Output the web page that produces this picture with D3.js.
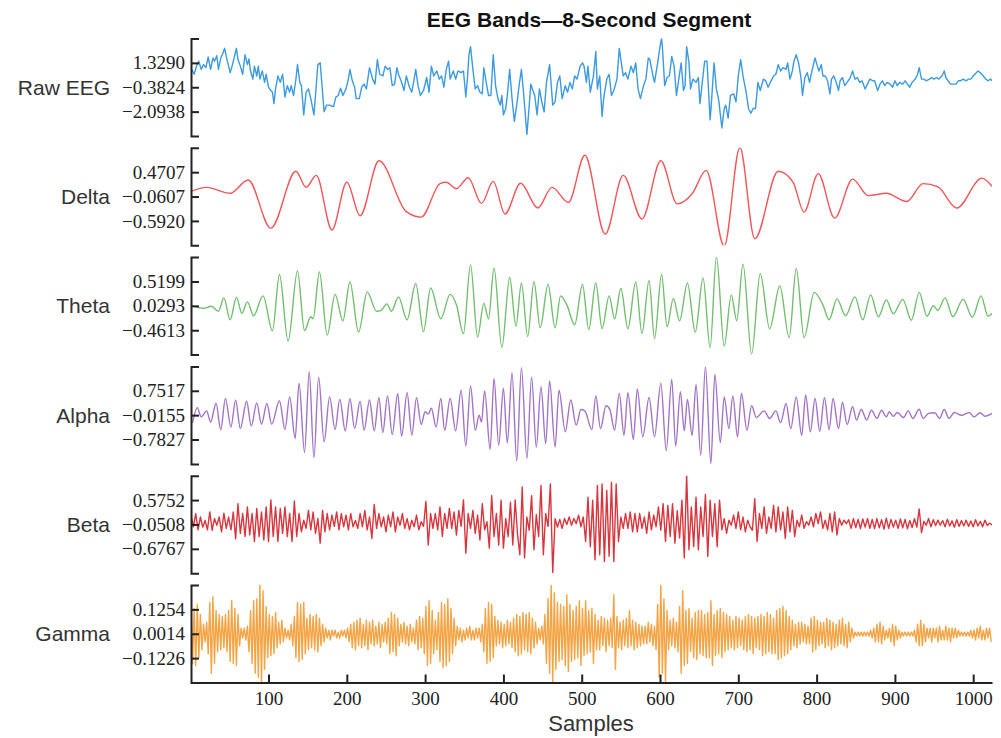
<!DOCTYPE html>
<html lang="en">
<head>
  <meta charset="UTF-8">
  <title>EEG Bands</title>
  <style>
    body { margin: 0; background: #fff; }
    .axis path, .axis line { stroke: #222; stroke-width: 2px; }
    .axis text { font-family: "Liberation Serif", serif; font-size: 19px; fill: #222; }
    .band-label { font-family: "Liberation Sans", Arial, sans-serif; font-size: 21px; fill: #333; }
    .trace { fill: none; stroke-width: 1.4px; stroke-linejoin: round; }
  </style>
</head>
<body>
  <svg width="1001" height="738"></svg>
  <script src="https://cdn.jsdelivr.net/npm/d3@7/dist/d3.min.js"></script>
  <script>
    // band names, colours and the three tick values of each panel (mean + sd, mean, mean - sd)
    var bandNames = ['Raw EEG', 'Delta', 'Theta', 'Alpha', 'Beta', 'Gamma']
    var bandColors = ['#3b9ae1', '#f0575a', '#72bf6f', '#a274c6', '#d8353d', '#f4a444']
    var bandTicks = [
      [1.3290, -0.3824, -2.0938],
      [0.4707, -0.0607, -0.5920],
      [0.5199, 0.0293, -0.4613],
      [0.7517, -0.0155, -0.7827],
      [0.5752, -0.0508, -0.6767],
      [0.1254, 0.0014, -0.1226]
    ]
    var xTicks = [100, 200, 300, 400, 500, 600, 700, 800, 900, 1000]

    // [sample, value]
    var rawEEG = [
      [2,0.87],[5,0.53],[8,1.10],[11,1.44],[14,0.87],[17,1.21],[20,0.99],[23,1.74],[26,0.87],[29,1.67],
      [31,1.44],[34,1.83],[36,0.87],[39,1.67],[41,1.90],[44,2.35],[47,1.56],[51,0.64],[54,1.21],[57,1.90],
      [59,2.35],[61,1.56],[64,1.10],[67,0.53],[70,1.90],[73,1.21],[75,1.60],[77,0.76],[80,0.19],[82,1.10],
      [85,0.41],[87,1.10],[89,0.19],[92,0.76],[95,-0.04],[97,0.53],[100,-0.38],[103,-0.61],[105,-0.73],[107,-1.53],
      [109,-0.50],[112,0.41],[115,-0.04],[118,0.53],[121,-1.07],[124,-0.27],[127,-0.73],[129,-0.27],[132,-0.96],[135,0.19],
      [137,1.21],[140,-0.04],[142,-0.27],[145,-2.32],[148,-0.73],[151,-0.50],[154,-1.18],[158,-2.32],[160,-0.96],[163,1.21],
      [166,1.33],[168,-0.04],[171,-2.10],[174,-1.64],[178,-1.64],[183,-1.75],[186,-1.07],[189,-0.96],[192,-0.45],[195,-0.96],
      [199,-0.50],[202,0.19],[204,0.87],[207,0.07],[210,-0.38],[212,-1.18],[216,-1.18],[219,-0.38],[222,-0.16],[225,-0.50],
      [229,0.99],[233,0.19],[236,-0.16],[239,1.56],[242,0.53],[246,0.41],[249,1.10],[252,0.87],[255,0.99],[258,-0.27],
      [261,-0.16],[264,0.99],[266,0.53],[270,-0.04],[273,-0.61],[276,0.41],[280,-0.38],[283,-0.73],[286,0.19],[288,0.87],
      [291,-0.27],[294,-0.96],[298,-0.61],[302,0.30],[305,-0.73],[308,1.10],[311,0.41],[315,0.76],[318,0.19],[321,0.41],
      [324,-0.38],[327,0.87],[330,1.44],[332,0.19],[336,0.76],[339,0.19],[342,0.76],[346,0.64],[349,0.76],[352,-1.07],
      [354,0.19],[356,1.90],[358,2.47],[361,0.87],[364,-0.50],[367,-0.27],[370,-0.73],[373,-0.84],[375,0.99],[378,-0.04],
      [381,-0.96],[384,-0.96],[387,1.90],[390,-0.27],[393,-1.18],[396,-1.64],[398,-0.96],[400,-2.32],[403,-1.87],[405,-0.96],
      [408,0.87],[411,-1.18],[414,-2.78],[417,-1.64],[420,-0.27],[423,0.87],[426,-0.96],[430,-3.69],[433,-1.64],[435,-0.16],
      [437,-0.50],[440,-0.96],[443,-2.32],[446,-0.50],[449,-1.41],[452,-2.10],[455,-0.04],[459,1.21],[463,-1.64],[466,-1.41],
      [469,-0.04],[472,0.41],[475,-1.18],[479,-0.27],[482,-0.73],[485,-0.04],[488,-0.50],[491,0.41],[494,0.19],[498,1.10],
      [501,1.33],[503,1.10],[506,-0.04],[508,1.10],[511,-0.73],[515,0.41],[518,2.13],[520,-0.50],[523,0.41],[526,-2.44],
      [528,-1.18],[532,0.19],[535,0.53],[538,-0.96],[541,-0.61],[545,0.19],[548,2.35],[550,1.56],[553,0.41],[556,0.64],
      [559,0.19],[563,1.10],[566,0.64],[569,1.33],[572,-0.50],[575,-1.18],[579,-0.27],[582,0.19],[585,1.67],[587,1.56],
      [591,0.41],[593,-0.04],[597,1.33],[600,2.47],[602,3.04],[603,2.47],[606,-0.27],[609,0.30],[612,0.41],[615,1.78],
      [618,1.10],[621,-0.96],[624,0.19],[627,1.33],[630,-0.61],[632,-0.27],[634,2.47],[637,1.33],[639,-0.50],[642,0.19],
      [646,-0.04],[649,0.30],[651,-1.53],[654,-0.04],[657,1.44],[660,1.44],[664,-2.67],[666,-1.18],[669,1.33],[672,-0.50],
      [675,-1.30],[679,-3.24],[682,-1.87],[684,-1.64],[687,-2.55],[690,-0.96],[694,-0.84],[697,-1.41],[700,0.41],[703,1.56],
      [706,0.41],[710,-0.73],[713,-1.87],[716,-2.21],[719,-1.87],[722,-1.87],[725,-0.04],[728,-0.61],[732,0.19],[735,0.07],
      [738,-0.38],[741,-0.04],[745,0.41],[748,0.53],[751,1.21],[754,0.76],[757,0.99],[761,0.87],[763,1.33],[766,0.19],
      [769,0.76],[771,1.44],[774,1.90],[777,1.33],[780,0.30],[782,-0.96],[785,0.30],[788,0.64],[791,-0.04],[794,0.76],
      [798,1.67],[801,1.10],[803,0.76],[806,1.21],[808,0.41],[811,0.41],[814,0.07],[817,-0.84],[819,0.19],[822,0.41],
      [825,-0.04],[828,-0.61],[830,0.07],[833,0.30],[836,-0.27],[839,-0.04],[843,0.30],[846,0.76],[849,0.19],[852,0.30],
      [855,-0.04],[858,0.07],[862,-0.50],[865,-0.16],[868,0.19],[872,0.07],[874,0.07],[878,-0.61],[881,-0.16],[884,0.07],
      [887,-0.27],[890,-0.04],[894,-0.16],[897,-0.38],[900,0.07],[903,-0.27],[906,-0.04],[910,-0.16],[913,0.07],[916,-0.16],
      [919,-0.38],[922,-0.04],[926,0.19],[929,0.53],[931,0.99],[934,0.19],[937,0.19],[940,0.07],[944,0.19],[947,0.30],
      [950,0.19],[953,0.30],[956,0.19],[960,0.41],[963,0.76],[965,0.30],[968,0.07],[971,-0.16],[975,-0.16],[978,-0.16],
      [981,0.07],[984,0.07],[987,0.19],[991,0.07],[994,0.19],[997,0.19],[1000,0.41],[1004,0.64],[1006,0.76],[1009,0.64],
      [1013,0.41],[1016,0.19],[1019,0.07],[1022,0.19],[1024,0.07]
    ]

    // turning points [sample, value]
    var delta = [
      [1,0.05],[21,0.14],[51,0.01],[74,0.30],[103,-0.75],[135,0.49],[148,0.14],[161,0.40],[181,-0.79],[200,0.25],
      [217,-0.48],[241,0.72],[276,-0.39],[295,-0.51],[319,0.22],[327,0.25],[340,0.11],[355,0.35],[372,-0.21],[387,0.27],
      [402,-0.44],[422,0.23],[444,-0.31],[462,0.14],[483,-0.19],[504,0.84],[530,-0.88],[553,0.40],[577,-0.55],[601,0.72],
      [622,-0.22],[641,0.00],[659,0.51],[682,-1.14],[702,1.01],[721,-0.98],[751,0.49],[770,0.25],[784,-0.40],[802,0.44],
      [823,-0.53],[846,0.32],[866,-0.04],[889,0.01],[915,-0.17],[936,0.22],[955,0.15],[979,-0.31],[1011,0.34],[1024,0.16]
    ]

    var theta = [
      [3,0.03],[17,-0.02],[27,0.02],[36,-0.08],[43,0.19],[51,-0.25],[59,0.20],[66,-0.12],[73,0.11],[81,-0.17],
      [93,0.23],[105,-0.47],[114,0.66],[125,-0.68],[137,0.73],[146,-0.47],[154,-0.19],[157,-0.23],[165,0.71],[175,-0.56],
      [185,0.26],[195,-0.27],[204,0.51],[215,-0.50],[226,0.31],[238,-0.08],[244,-0.06],[251,0.07],[257,-0.08],[266,0.21],
      [277,-0.25],[288,0.48],[298,-0.49],[307,0.39],[320,-0.23],[332,0.26],[340,0.05],[349,-0.53],[358,0.86],[367,-0.60],
      [375,0.08],[381,-0.23],[388,0.79],[398,-0.81],[408,0.60],[416,-0.38],[423,0.49],[431,-0.59],[439,0.52],[447,-0.41],
      [457,0.46],[466,-0.41],[473,0.23],[481,0.05],[491,-0.35],[501,0.46],[509,-0.45],[518,0.49],[526,-0.43],[535,0.23],
      [542,-0.23],[550,0.38],[559,-0.43],[569,0.51],[577,-0.53],[586,0.54],[593,-0.63],[602,0.66],[609,-0.39],[617,0.18],
      [625,-0.27],[635,0.49],[645,-0.50],[655,0.59],[664,-0.81],[672,1.02],[682,-0.78],[691,0.25],[698,-0.27],[706,0.87],
      [717,-0.94],[728,0.68],[740,-0.43],[753,0.43],[765,-0.61],[774,0.78],[784,-0.61],[797,0.30],[808,0.05],[816,-0.25],
      [826,0.17],[837,-0.17],[849,0.21],[859,-0.25],[869,0.25],[879,-0.19],[889,0.15],[898,-0.13],[910,0.16],[921,-0.26],
      [931,0.30],[941,-0.18],[949,0.03],[955,-0.06],[964,0.19],[974,-0.19],[987,0.16],[999,-0.20],[1010,0.23],[1019,-0.18],
      [1024,-0.12]
    ]

    var alpha = [
      [3,-0.26],[9,0.22],[14,-0.07],[21,0.12],[26,-0.23],[33,0.35],[39,-0.47],[45,0.51],[52,-0.39],[58,0.46],
      [64,-0.44],[72,0.42],[78,-0.36],[85,0.37],[91,-0.30],[98,0.35],[104,-0.30],[114,0.44],[121,-0.47],[127,0.56],
      [134,-0.75],[139,0.99],[146,-1.19],[152,1.35],[158,-1.35],[164,1.18],[171,-0.86],[178,0.56],[185,-0.47],[191,0.48],
      [198,-0.51],[204,0.50],[210,-0.44],[217,0.42],[222,-0.49],[229,0.46],[235,-0.51],[241,0.53],[246,-0.56],[252,0.59],
      [258,-0.63],[265,0.66],[270,-0.68],[277,0.69],[283,-0.65],[289,0.53],[295,-0.31],[300,0.09],[304,0.02],[308,0.20],
      [314,-0.39],[320,0.51],[325,-0.49],[332,0.51],[339,-0.51],[346,0.77],[352,-0.99],[358,0.90],[364,-0.49],[369,-0.02],
      [372,-0.23],[376,0.75],[383,-1.09],[388,1.14],[394,-0.96],[400,0.83],[405,-0.89],[411,1.32],[417,-1.46],[423,1.48],
      [430,-1.38],[436,1.18],[442,-1.02],[448,0.88],[454,-0.91],[459,1.06],[466,-1.02],[471,0.77],[479,-0.54],[486,0.46],
      [493,-0.33],[499,0.16],[504,0.12],[513,-0.47],[518,0.59],[524,-0.44],[531,0.28],[536,0.16],[542,-0.49],[548,0.67],
      [554,-0.65],[559,0.69],[566,-0.78],[571,0.81],[578,-0.70],[586,0.54],[593,-0.70],[601,0.99],[608,-1.13],[615,1.11],
      [620,-0.99],[626,0.72],[631,-0.51],[635,0.48],[641,-0.65],[646,0.95],[652,-1.28],[658,1.51],[665,-1.54],[670,1.27],
      [677,-0.88],[682,0.56],[688,-0.44],[693,0.59],[699,-0.70],[704,0.67],[711,-0.49],[717,0.28],[723,-0.09],[733,0.12],
      [740,-0.12],[748,0.12],[754,-0.25],[761,0.35],[767,-0.44],[774,0.56],[781,-0.65],[786,0.62],[792,-0.54],[798,0.51],
      [804,-0.52],[810,0.53],[816,-0.47],[821,0.51],[828,-0.44],[833,0.39],[839,-0.31],[846,0.25],[851,-0.17],[857,0.16],
      [864,-0.17],[870,0.14],[877,-0.12],[883,0.14],[889,-0.07],[893,0.09],[898,-0.05],[903,0.07],[911,-0.09],[917,0.12],
      [923,-0.12],[931,0.17],[936,-0.12],[943,0.04],[951,0.06],[957,-0.12],[963,0.16],[969,-0.12],[976,0.07],[985,-0.02],
      [995,0.07],[1001,-0.07],[1009,0.06],[1015,-0.05],[1024,0.04]
    ]

    // beta: one value every 3 samples, from sample 1
    var beta = [
      0.19,-0.11,0.23,-0.19,0.14,-0.12,0.05,-0.19,0.27,-0.20,
      0.10,-0.07,0.14,-0.24,0.24,-0.15,0.14,-0.19,0.27,-0.42,
      0.48,-0.28,0.23,-0.36,0.40,-0.32,0.23,-0.49,0.36,-0.36,
      0.27,-0.45,0.40,-0.49,0.58,-0.36,0.40,-0.49,0.36,-0.28,
      0.40,-0.36,0.23,-0.49,0.55,-0.36,0.23,-0.24,0.06,-0.15,
      0.31,-0.19,0.27,-0.28,0.10,-0.53,0.31,-0.24,0.23,-0.19,
      0.19,-0.10,0.27,-0.19,0.23,-0.11,0.19,-0.19,0.23,-0.11,
      0.05,-0.15,0.23,-0.11,0.31,-0.19,0.14,-0.41,0.46,-0.15,
      0.23,-0.11,0.14,-0.24,0.19,-0.11,0.27,-0.24,0.14,-0.07,
      0.23,-0.15,0.10,-0.19,0.06,-0.11,0.19,-0.19,0.02,-0.10,
      0.54,-0.58,0.23,-0.15,0.23,-0.19,0.40,-0.36,0.23,-0.15,
      0.36,-0.15,0.27,-0.32,0.31,-0.10,0.58,-0.79,0.23,-0.15,
      0.31,-0.28,0.19,-0.45,0.48,-0.19,0.02,-0.66,0.69,-0.36,
      0.23,-0.58,0.57,-0.66,0.10,-0.36,0.52,-0.58,0.58,-0.30,
      -0.83,0.91,-0.91,0.14,-0.20,0.69,-0.70,0.20,-0.36,0.95,
      -0.83,0.23,-0.10,0.99,-1.29,0.10,-0.12,0.08,-0.15,0.10,
      -0.05,0.14,-0.07,0.10,-0.03,0.19,-0.11,0.14,-0.49,0.65,
      -0.62,0.57,-0.96,0.95,-0.83,0.99,-1.00,0.82,-0.87,1.03,
      -1.00,0.99,-0.49,0.14,-0.15,0.23,-0.15,0.27,-0.24,0.23,
      -0.24,0.23,-0.15,0.14,-0.28,0.27,-0.19,0.19,-0.11,0.40,
      -0.20,0.48,-0.49,0.44,-0.36,0.48,-0.53,0.30,-0.40,0.57,
      -0.91,1.23,-0.70,0.40,-0.62,0.65,-0.70,0.40,-0.36,0.72,
      -0.87,0.57,-0.36,0.48,-0.62,0.57,-0.19,0.10,-0.28,0.06,
      -0.07,0.19,-0.15,0.27,-0.19,0.14,-0.24,0.06,-0.11,-0.20,
      0.61,-0.49,0.23,-0.15,0.40,-0.28,0.14,-0.15,0.44,-0.24,
      0.40,-0.19,0.27,-0.41,0.40,-0.24,0.31,-0.36,0.06,-0.11,
      0.19,-0.15,0.02,-0.07,0.14,-0.11,0.23,-0.03,0.27,-0.15,
      0.06,-0.19,0.23,-0.24,0.27,-0.32,0.10,-0.07,0.06,-0.03,
      0.07,-0.15,0.10,-0.13,0.08,-0.16,0.09,-0.12,0.10,-0.15,
      0.08,-0.16,0.10,-0.14,0.07,-0.17,0.11,-0.15,0.08,-0.12,
      0.06,-0.15,0.09,-0.14,0.08,-0.16,0.05,-0.13,0.10,-0.12,
      0.35,-0.26,0.03,-0.07,0.10,-0.11,0.07,-0.08,0.06,-0.07,
      0.05,-0.11,0.08,-0.09,0.04,-0.12,0.07,-0.10,0.05,-0.09,
      0.06,-0.10,0.04,-0.11,0.07,-0.09,0.03,-0.11,0.06,-0.08,
      -0.02,-0.06
    ]

    // gamma: one value every 2 samples, from sample 1
    var gamma = [
      0.14,-0.15,0.13,-0.16,0.15,-0.12,0.10,-0.08,
      0.05,-0.04,0.06,
      -0.10,0.16,-0.20,0.19,-0.15,0.12,
      -0.09,0.10,-0.08,0.09,-0.07,0.10,-0.09,
      0.12,-0.14,0.17,-0.15,0.13,-0.16,0.10,-0.06,
      0.03,-0.02,0.03,-0.03,0.04,
      -0.09,0.12,-0.15,0.17,-0.20,0.18,-0.22,0.26,-0.25,0.22,-0.18,0.14,
      -0.12,0.10,-0.11,0.09,-0.10,0.11,-0.07,
      0.06,-0.05,0.07,-0.04,0.03,-0.02,0.02,-0.03,0.05,-0.06,
      0.09,-0.12,0.16,-0.14,0.15,-0.13,0.16,-0.10,0.08,
      -0.08,0.10,-0.07,0.09,-0.08,0.10,-0.09,0.08,-0.06,0.05,-0.04,
      0.03,-0.02,0.02,-0.03,0.02,-0.01,0.02,-0.02,0.01,-0.02,0.02,-0.01,0.02,-0.02,0.03,
      -0.04,0.05,-0.07,0.06,-0.08,0.07,-0.06,0.08,-0.07,0.05,-0.06,0.07,-0.08,0.06,-0.05,0.07,-0.06,0.04,-0.05,0.06,-0.07,0.05,-0.04,0.06,-0.05,
      0.08,-0.10,0.11,-0.09,0.10,-0.11,0.08,-0.06,
      0.05,-0.04,0.06,-0.05,0.04,-0.06,0.05,-0.04,0.03,-0.05,
      0.07,-0.08,0.09,-0.07,0.08,-0.10,
      0.14,-0.16,0.17,-0.15,0.12,-0.10,
      0.07,-0.08,
      0.11,-0.14,0.16,-0.17,0.15,-0.16,0.18,-0.14,0.13,-0.10,0.08,-0.06,
      0.04,-0.03,0.03,-0.04,0.02,-0.03,0.03,-0.02,0.04,-0.03,0.02,-0.03,0.03,-0.02,0.03,-0.04,0.05,
      -0.09,0.13,-0.15,0.16,-0.14,0.15,-0.12,0.09,
      -0.06,0.07,-0.05,0.06,-0.07,0.05,-0.06,0.07,-0.05,0.06,-0.07,
      0.08,-0.09,0.10,-0.11,0.09,-0.10,0.11,-0.08,0.10,-0.09,0.11,-0.10,0.08,-0.07,0.06,-0.05,
      0.03,-0.03,0.04,-0.05,
      0.10,-0.15,0.18,-0.20,0.26,-0.25,0.21,-0.18,0.16,-0.14,0.15,-0.13,
      0.14,-0.16,0.20,-0.19,0.15,-0.14,0.12,-0.13,0.14,-0.12,0.17,-0.16,0.13,
      -0.11,0.17,-0.10,0.12,-0.09,0.13,-0.15,0.10,-0.08,
      0.07,-0.08,0.09,-0.06,0.08,-0.09,0.07,-0.06,0.08,-0.07,0.20,-0.18,0.09,
      -0.07,0.06,-0.08,0.07,-0.06,0.08,-0.07,0.12,-0.06,0.07,-0.08,0.06,-0.07,0.05,-0.06,0.04,
      -0.05,0.04,-0.05,0.06,-0.04,0.05,-0.06,0.04,-0.08,
      0.15,-0.22,0.26,-0.20,0.18,-0.24,0.12,
      -0.08,0.07,-0.06,0.08,-0.07,0.06,-0.09,
      0.14,-0.20,0.22,-0.16,0.12,-0.15,0.13,-0.09,0.08,
      -0.12,0.11,-0.13,0.12,-0.10,0.12,-0.11,0.10,-0.12,0.11,
      -0.12,0.17,-0.16,
      0.10,-0.11,0.12,-0.10,0.13,-0.12,0.11,-0.09,0.10,-0.08,0.09,-0.07,
      0.07,-0.08,0.09,-0.07,0.08,-0.06,0.07,-0.08,0.09,
      -0.09,0.10,-0.08,0.09,-0.10,0.08,-0.07,0.09,-0.08,
      0.10,-0.11,0.09,-0.10,0.11,-0.09,0.10,-0.10,0.08,
      -0.10,0.12,-0.13,0.13,-0.12,0.14,-0.11,0.12,-0.10,0.09,-0.08,0.07,
      -0.06,0.05,-0.07,0.06,-0.05,0.06,-0.04,0.05,-0.05,0.04,-0.05,
      0.08,-0.09,0.09,-0.08,0.07,-0.06,0.06,
      -0.05,0.06,-0.07,0.08,-0.06,0.07,-0.08,0.06,-0.07,0.05,-0.06,0.07,-0.05,0.08,-0.06,0.05,-0.07,0.06,-0.04,0.03,-0.02,
      0.01,-0.01,0.01,-0.01,0.01,-0.01,0.01,-0.01,0.01,-0.01,0.02,-0.02,
      0.03,-0.04,0.05,-0.04,0.06,-0.05,0.04,-0.03,0.02,-0.02,0.03,-0.04,0.05,-0.06,0.04,-0.03,0.02,-0.02,
      0.01,-0.01,0.01,-0.01,0.01,-0.01,0.01,-0.01,
      0.02,-0.04,0.05,-0.06,0.07,-0.06,0.05,-0.04,0.03,
      -0.02,0.03,-0.04,0.03,-0.02,0.03,-0.04,0.04,-0.03,0.02,-0.03,0.04,-0.03,0.03,-0.04,0.03,-0.02,0.03,-0.02,0.02,-0.01,
      0.01,-0.01,0.01,-0.01,0.01,-0.01,0.02,-0.02,
      0.02,-0.03,0.03,-0.02,0.04,-0.03,0.02,-0.03,0.03,-0.02,0.03,-0.04
    ]

    var series = [
      { points: rawEEG, curve: d3.curveLinear },
      { points: delta, curve: d3.curveMonotoneX },
      { points: theta, curve: d3.curveMonotoneX },
      { points: alpha, curve: d3.curveMonotoneX },
      { points: beta.map(function(v, i) { return [1 + 3 * i, v] }), curve: d3.curveLinear },
      { points: gamma.map(function(v, i) { return [1 + 2 * i, v] }), curve: d3.curveLinear }
    ]

    var svg = d3.select('svg')
    var left = 191
    var right = 992
    var panelTop = 38.5
    var panelStep = 109.3
    var panelH = 97.5

    var x = d3.scaleLinear().domain([1, 1024]).range([left, right])

    svg.append('text')
      .attr('x', 589)
      .attr('y', 27)
      .attr('text-anchor', 'middle')
      .attr('font-family', '"Liberation Sans", Arial, sans-serif')
      .attr('font-weight', 'bold')
      .attr('font-size', '21px')
      .attr('fill', '#111')
      .text('EEG Bands\u20148-Second Segment')

    var bottomLast = 0

    bandNames.forEach(function(name, i) {
      var top = panelTop + i * panelStep
      var bottom = top + panelH
      bottomLast = bottom
      var mid = bandTicks[i][1]
      var sd = bandTicks[i][0] - bandTicks[i][1]
      var y = d3.scaleLinear().domain([mid - 2 * sd, mid + 2 * sd]).range([bottom, top])

      svg.append('clipPath')
        .attr('id', 'clip' + i)
        .append('rect')
        .attr('x', left)
        .attr('y', top)
        .attr('width', right - left)
        .attr('height', bottom - top)

      var line = d3.line()
        .x(function(d) { return x(d[0]) })
        .y(function(d) { return y(d[1]) })
        .curve(series[i].curve)

      svg.append('path')
        .datum(series[i].points)
        .attr('class', 'trace')
        .attr('clip-path', 'url(#clip' + i + ')')
        .attr('stroke', bandColors[i])
        .attr('d', line)

      svg.append('g')
        .attr('class', 'axis')
        .attr('transform', 'translate(' + left + ',0)')
        .call(d3.axisLeft(y).tickValues(bandTicks[i]).tickSize(-8).tickPadding(6).tickFormat(d3.format('.4f')))

      svg.append('text')
        .attr('class', 'band-label')
        .attr('x', 110)
        .attr('y', (top + bottom) / 2)
        .attr('dy', '0.35em')
        .attr('text-anchor', 'end')
        .text(name)
    })

    svg.append('g')
      .attr('class', 'axis')
      .attr('transform', 'translate(0,' + bottomLast + ')')
      .call(d3.axisBottom(x).tickValues(xTicks).tickSize(-8).tickSizeOuter(0).tickPadding(9).tickFormat(d3.format('d')))

    svg.append('text')
      .attr('x', 591)
      .attr('y', 731)
      .attr('text-anchor', 'middle')
      .attr('font-family', '"Liberation Sans", Arial, sans-serif')
      .attr('font-size', '22px')
      .attr('fill', '#333')
      .text('Samples')
  </script>
</body>
</html>
